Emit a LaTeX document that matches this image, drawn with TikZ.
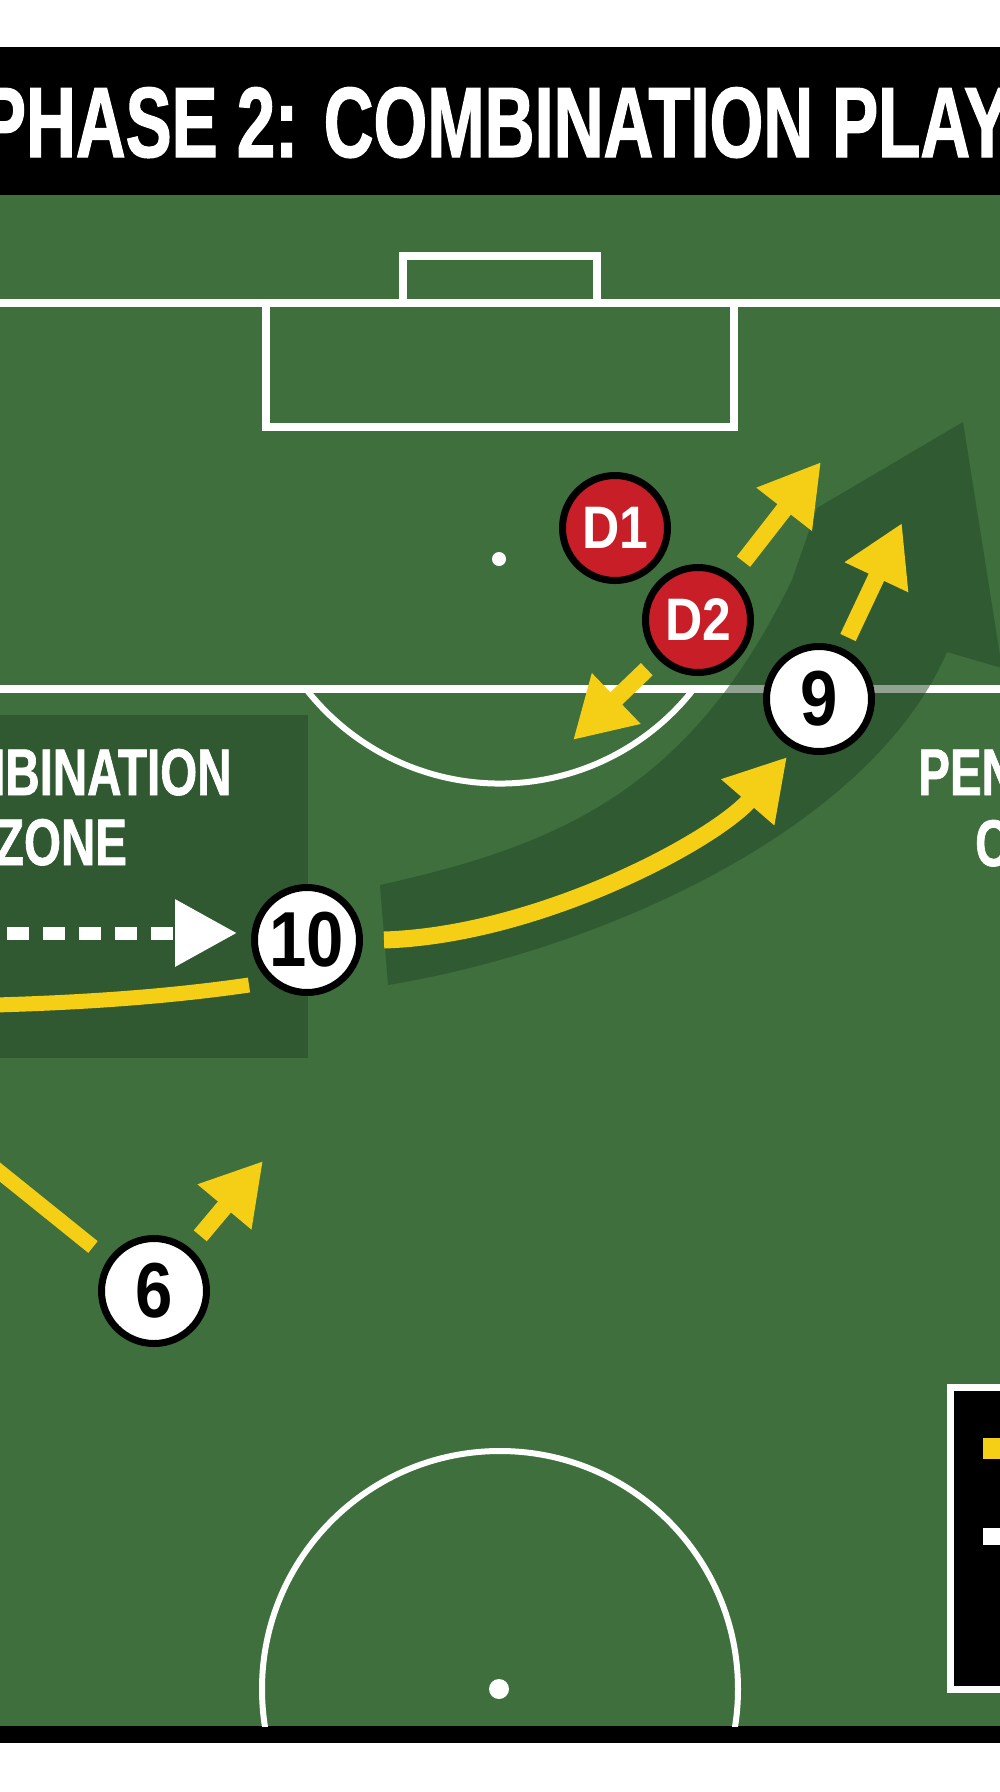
\documentclass[tikz,border=0pt]{standalone}
\usepackage{fontspec}
\setmainfont{Liberation Sans}
\newfontfamily\condfont{Liberation Sans}[FakeStretch=0.72, FakeBold=1]
\newfontfamily\titlefont{Liberation Sans}[FakeStretch=0.69, FakeBold=1.2]
\newfontfamily\numfont{Liberation Sans}[FakeStretch=0.86]
\usetikzlibrary{arrows.meta}

\definecolor{pitch}{RGB}{62,111,61}
\definecolor{zonegreen}{RGB}{48,89,49}
\definecolor{bandgreen}{RGB}{36,70,40}
\definecolor{kityellow}{RGB}{245,206,22}
\definecolor{defred}{RGB}{200,30,40}

\tikzset{
    pitchline/.style={white, line width=8pt},
    player/.style={circle, draw=black, line width=7pt, fill=white,
        minimum size=105pt, inner sep=0pt,
        font=\numfont\bfseries\fontsize{78}{78}\selectfont},
    defender/.style={player, fill=defred, text=white,
        font=\numfont\bfseries\fontsize{60}{60}\selectfont},
    yrun/.style={kityellow, line width=17pt,
        -{Triangle[length=60pt, width=66pt]}},
    ypass/.style={kityellow, line width=15pt},
    dasharrow/.style={white, line width=13pt, dash pattern=on 22pt off 14pt,
        -{Triangle[length=62pt, width=64pt]}},
    bigtext/.style={text=white, inner sep=0pt,
        font=\condfont\bfseries\fontsize{66}{70}\selectfont}
}

\begin{document}
\begin{tikzpicture}[x=1pt, y=-1pt]
    \useasboundingbox (0, 0) rectangle (1000, 1792);
    \clip (0, 0) rectangle (1000, 1792);

    % page, title bar and grass
    \fill[white] (0, 0) rectangle (1000, 1792);
    \fill[black] (0, 47) rectangle (1000, 195);
    \fill[pitch] (0, 195) rectangle (1000, 1726);
    \fill[black] (0, 1726) rectangle (1000, 1743);
    \node[anchor=base, text=white, inner sep=0pt,
        font=\titlefont\bfseries\fontsize{100}{100}\selectfont]
        (title) at (495, 157) {PHASE 2: COMBINATION PLAY};

    % markings
    \begin{scope}
        \clip (0, 195) rectangle (1000, 1726);
        \draw[pitchline] (0, 303) -- (1000, 303);
        \draw[pitchline] (403, 303) -- (403, 256) -- (597, 256) -- (597, 303);
        \draw[pitchline] (266, 303) -- (266, 427) -- (734, 427) -- (734, 303);
        \fill[white] (499, 559) circle (7);
        \draw[pitchline] (0, 689) -- (1000, 689);
        \draw[pitchline, line width=6pt] (306, 689)
            arc[start angle=218, end angle=322, radius=246pt];
        \draw[pitchline, line width=6pt] (500, 1689) circle (238);
        \fill[white] (499, 1689) circle (10);
    \end{scope}

    % the zone
    \fill[zonegreen] (0, 715) rectangle (308, 1058);

    % the big swerve
    \fill[bandgreen, fill opacity=0.5] (380, 885)
        .. controls (560, 845) and (690, 790) .. (792, 580)
        -- (817, 508) -- (963, 422) -- (1002, 668) -- (947, 652)
        .. controls (870, 830) and (600, 950) .. (388, 985) -- cycle;

    % legend corner
    \fill[white] (947, 1384) rectangle (1010, 1693);
    \fill[black] (954, 1391) rectangle (1010, 1686);
    \fill[kityellow] (983, 1438) rectangle (1010, 1459);
    \fill[white] (983, 1528) rectangle (1010, 1545);

    % labels
    \node[bigtext, anchor=base] (zone1) at (63, 795) {COMBINATION};
    \node[bigtext, anchor=base] (zone2) at (61, 865) {ZONE};
    \node[bigtext, anchor=base west] (pen1) at (918, 795) {PEN};
    \node[bigtext, anchor=base west] (pen2) at (975, 866) {C};

    % players
    \node[defender] (d1) at (615, 528) {D1};
    \node[defender] (d2) at (698, 620) {D2};
    \node[player] (p9) at (819, 699) {9};
    \node[player] (p10) at (307, 940) {10};
    \node[player] (p6) at (154, 1291) {6};

    % free ends
    \coordinate (c10from) at (-29, 933);
    \coordinate (cpassa) at (-5, 1005);
    \coordinate (cpassb) at (249, 985);
    \coordinate (c6from) at (-20, 1156);
    \coordinate (c6to) at (93, 1247);
    \coordinate (t9) at (787, 757);
    \coordinate (t1) at (821, 462);
    \coordinate (t2) at (902, 523);
    \coordinate (t3) at (573, 740);
    \coordinate (t4) at (263, 1161);

    % runs and passes
    \draw[dasharrow, shorten >=14pt] (c10from) -- (p10.west |- c10from);
    \draw[ypass] (cpassa) .. controls (100, 1002) and (180, 995) .. (cpassb);
    \draw[ypass] (c6from) -- (c6to);
    \draw[yrun] ([xshift=21pt]p10.east)
        .. controls (540, 935) and (715, 840) .. (t9);
    \draw[yrun, shorten <=18pt] (d2) -- (t1);
    \draw[yrun, shorten <=12pt] (p9) -- (t2);
    \draw[yrun, shorten <=15pt] (d2) -- (t3);
    \draw[yrun, shorten <=16pt] (p6) -- (t4);
\end{tikzpicture}
\end{document}
